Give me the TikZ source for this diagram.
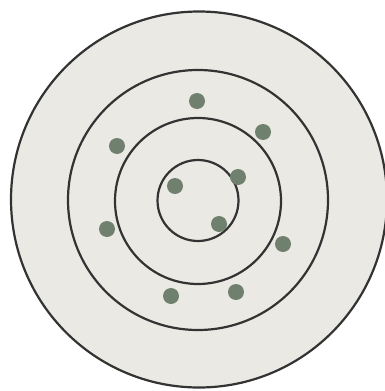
\documentclass[tikz,border=0pt]{standalone}
\begin{document}
\begin{tikzpicture}[x=1pt,y=-1pt,
  ring/.style={draw=black!80,line width=2.2pt},
  dot/.style={circle,fill=shot,inner sep=0pt,minimum size=16pt}]
\definecolor{shot}{RGB}{112,128,110}
\definecolor{board}{RGB}{234,233,227}
\useasboundingbox (0,0) rectangle (385,391);
\fill[white] (0,0) rectangle (385,391);
\draw[ring,fill=board] (199,199.5) circle[radius=188];
\draw[ring] (198,200) circle[radius=130];
\draw[ring] (198,201) circle[radius=83];
\draw[ring] (198,200.5) circle[radius=40.5];
\node[dot] (d1) at (197,101) {};
\node[dot] (d2) at (263,132) {};
\node[dot] (d3) at (117,146) {};
\node[dot] (d4) at (238,177) {};
\node[dot] (d5) at (175,186) {};
\node[dot] (d6) at (219,224) {};
\node[dot] (d7) at (107,229) {};
\node[dot] (d8) at (283,244) {};
\node[dot] (d9) at (171,296) {};
\node[dot] (d10) at (236,292) {};
\end{tikzpicture}
\end{document}
